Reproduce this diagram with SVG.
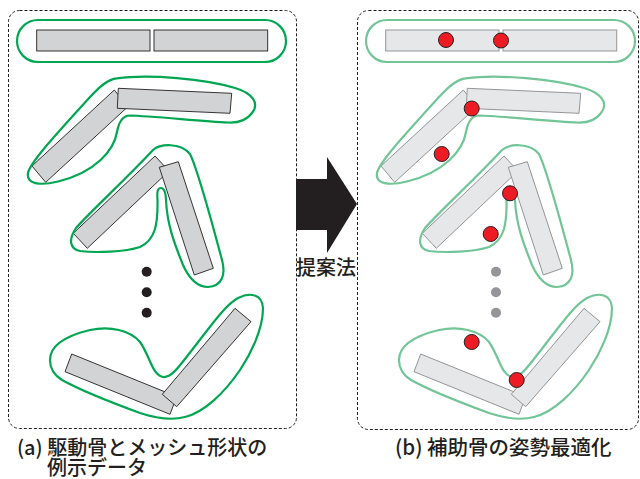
<svg xmlns="http://www.w3.org/2000/svg" width="640" height="479" viewBox="0 0 640 479">
<style>
.panel{fill:none;stroke:#231f20;stroke-width:1;stroke-dasharray:3 2}
.boneA{fill:#d1d3d4;stroke:#231f20;stroke-width:0.9}
.boneB{fill:#e6e7e8;stroke:#939598;stroke-width:1}
.meshA{fill:none;stroke:#00a651;stroke-width:2.2}
.meshB{fill:none;stroke:#72c597;stroke-width:2.2}
.joint{fill:#ed1c24;stroke:#231f20;stroke-width:1}
.lbl{font-family:"Noto Sans CJK JP","Noto Sans",sans-serif;fill:#231f20;font-weight:500}
</style>

<g id="arrow">
<polygon points="296,179 327,179 327,157 357,204 327,253 327,230 296,230" fill="#231f20"/>
<text class="lbl" x="296" y="275" font-size="20">提案法</text>
</g>

<g id="panel-a">
<rect class="panel" x="8.5" y="10.5" width="288" height="418" rx="11"/>
</g>
<g id="panel-b">
<rect class="panel" x="357.5" y="10.5" width="281" height="419" rx="11"/>
</g>

<!-- left panel -->
<g id="a-pose1">
<rect class="meshA" x="17" y="20" width="269" height="42" rx="21"/>
<rect class="boneA" x="36.7" y="30" width="113.3" height="21"/>
<rect class="boneA" x="154" y="30" width="113.7" height="21"/>
</g>
<g id="a-pose2">
<polygon class="boneA" points="32,166 114.3,90 128,106.6 45.7,182.3"/>
<polygon class="boneA" points="118.3,88.3 231.7,93.3 230,113.3 117.3,108.3"/>
<path class="meshA" d="M116.7,78.3 C150,74 205,79 235,88 C252,93 260,103 252,113 C247,120 238,123 228,122.5 C200,121 150,116 130,115.5 C123,115.5 119,121 117,132 C114,150 96,172 58,181.5 C40,186 26,184 28,173 C30,162 60,130 90,97 C100,86 108,79 116.7,78.3 Z"/>
</g>
<g id="a-pose3">
<polygon class="boneA" points="73.3,233.3 155,156 169,171 87.3,248.3"/>
<polygon class="boneA" points="159.3,167.3 178.3,161.7 213.3,268.3 194.3,275"/>
<path class="meshA" d="M153,150 C160,144 180,142 190,154 C198,170 214,230 222,260 C226,275 222,286 208,287 C195,287 188,276 183,265 C175,245 167,225 166,200 C166,193 164,188 161,188 C157,188 157,193 157.5,200 C158,225 155,240 140,247 C125,252 95,253 80,251 C70,249 68,240 76,228 C90,212 130,175 153,150 Z"/>
</g>
<g id="a-dots" fill="#231f20">
<circle cx="146.7" cy="271.7" r="5"/>
<circle cx="146.7" cy="292.3" r="5"/>
<circle cx="146.7" cy="312.7" r="5"/>
</g>
<g id="a-pose4">
<polygon class="boneA" points="71.7,354 176.7,396.6 170,414.3 65,371.7"/>
<polygon class="boneA" points="162.3,394.3 235,308.3 251,321.7 176.7,406.7"/>
<path class="meshA" d="M50,360 C50,345 65,336 90,330 C110,326 130,330 140,342 C150,356 152,375 163,377 C172,378 180,365 192,350 C210,327 225,305 238,298 C250,292 262,294 263,308 C263,330 250,355 240,370 C225,392 205,412 185,417 C170,421 155,418 140,413 C110,402 80,390 62,380 C54,375 50,368 50,360 Z"/>
</g>

<!-- right panel -->
<g transform="translate(349,0)">
<g id="b-pose1">
<rect class="meshB" x="17" y="20" width="269" height="42" rx="21"/>
<rect class="boneB" x="36.7" y="30" width="113.3" height="21"/>
<rect class="boneB" x="154" y="30" width="113.7" height="21"/>
<circle class="joint" cx="97" cy="40" r="7.5"/>
<circle class="joint" cx="152" cy="40.5" r="7.5"/>
</g>
<g id="b-pose2">
<polygon class="boneB" points="32,166 114.3,90 128,106.6 45.7,182.3"/>
<polygon class="boneB" points="118.3,88.3 231.7,93.3 230,113.3 117.3,108.3"/>
<path class="meshB" d="M116.7,78.3 C150,74 205,79 235,88 C252,93 260,103 252,113 C247,120 238,123 228,122.5 C200,121 150,116 130,115.5 C123,115.5 119,121 117,132 C114,150 96,172 58,181.5 C40,186 26,184 28,173 C30,162 60,130 90,97 C100,86 108,79 116.7,78.3 Z"/>
<circle class="joint" cx="122.7" cy="108.5" r="7.5"/>
<circle class="joint" cx="92.7" cy="154" r="7.5"/>
</g>
<g id="b-pose3">
<polygon class="boneB" points="73.3,233.3 155,156 169,171 87.3,248.3"/>
<polygon class="boneB" points="159.3,167.3 178.3,161.7 213.3,268.3 194.3,275"/>
<path class="meshB" d="M153,150 C160,144 180,142 190,154 C198,170 214,230 222,260 C226,275 222,286 208,287 C195,287 188,276 183,265 C175,245 167,225 166,200 C166,193 164,188 161,188 C157,188 157,193 157.5,200 C158,225 155,240 140,247 C125,252 95,253 80,251 C70,249 68,240 76,228 C90,212 130,175 153,150 Z"/>
<circle class="joint" cx="161" cy="193.3" r="7.5"/>
<circle class="joint" cx="141.7" cy="234" r="7.5"/>
</g>
<g id="b-dots" fill="#939598">
<circle cx="147" cy="271.7" r="5"/>
<circle cx="147" cy="292.3" r="5"/>
<circle cx="147" cy="312.7" r="5"/>
</g>
<g id="b-pose4">
<polygon class="boneB" points="71.7,354 176.7,396.6 170,414.3 65,371.7"/>
<polygon class="boneB" points="162.3,394.3 235,308.3 251,321.7 176.7,406.7"/>
<path class="meshB" d="M50,360 C50,345 65,336 90,330 C110,326 130,330 140,342 C150,356 152,375 163,377 C172,378 180,365 192,350 C210,327 225,305 238,298 C250,292 262,294 263,308 C263,330 250,355 240,370 C225,392 205,412 185,417 C170,421 155,418 140,413 C110,402 80,390 62,380 C54,375 50,368 50,360 Z"/>
<circle class="joint" cx="122.7" cy="342" r="7.5"/>
<circle class="joint" cx="167.7" cy="380" r="7.5"/>
</g>
</g>

<g id="captions">
<text class="lbl" x="17" y="454.5" font-size="20">(a) 駆動骨とメッシュ形状の</text>
<text class="lbl" x="47" y="474.5" font-size="20">例示データ</text>
<text class="lbl" x="395" y="454.5" font-size="20.5">(b) 補助骨の姿勢最適化</text>
</g>
</svg>
